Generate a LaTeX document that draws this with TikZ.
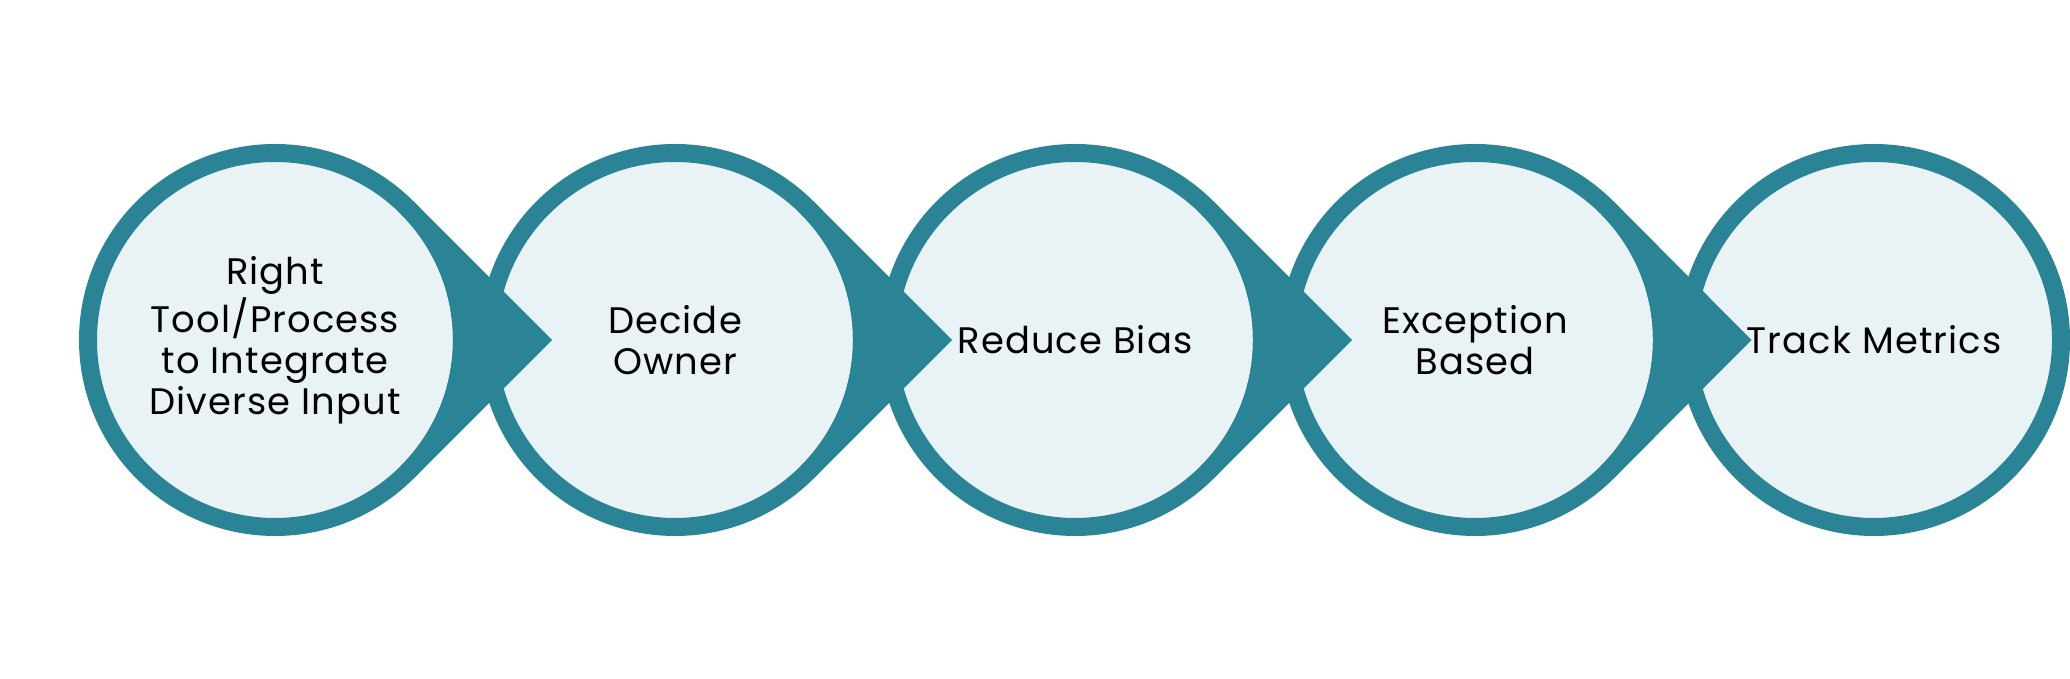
\documentclass[tikz,border=0pt]{standalone}
\usepackage{fontspec}
\setmainfont{Poppins}[LetterSpace=3]
\usepackage{tikz}
\usetikzlibrary{calc}

\definecolor{ringteal}{RGB}{43,131,150}
\definecolor{paleblue}{RGB}{233,243,246}

\begin{document}
\begin{tikzpicture}[
        stage/.style={
            circle,
            draw=ringteal,
            fill=paleblue,
            line width=0.18cm,
            minimum size=3.74cm,
            outer sep=0.09cm,
            inner sep=0pt,
            align=center,
            font=\fontsize{10.5}{11.6}\selectfont
        },
        pointer/.style={
            fill=ringteal
        }
    ]

        \useasboundingbox (0,0) rectangle (20.7,6.79);

        \node[stage] (c1) at (2.75,3.39) {Right\\Tool/Process\\to Integrate\\Diverse Input};
        \node[stage] (c2) at (6.75,3.39) {Decide\\Owner};
        \node[stage] (c3) at (10.75,3.39) {Reduce Bias};
        \node[stage] (c4) at (14.75,3.39) {Exception\\Based};
        \node[stage] (c5) at (18.74,3.39) {Track Metrics};

        % pointed tails from each circle into the next one
        \foreach \i/\j in {1/2,2/3,3/4,4/5} {
            \fill[pointer] (c\i.45) -- ($(c\i.center)!0.693!(c\j.center)$) -- (c\i.-45)
                -- ($(c\i.center)+(-45:1.78)$) arc[start angle=-45, end angle=45, radius=1.78] -- cycle;
        }

    \end{tikzpicture}
\end{document}
